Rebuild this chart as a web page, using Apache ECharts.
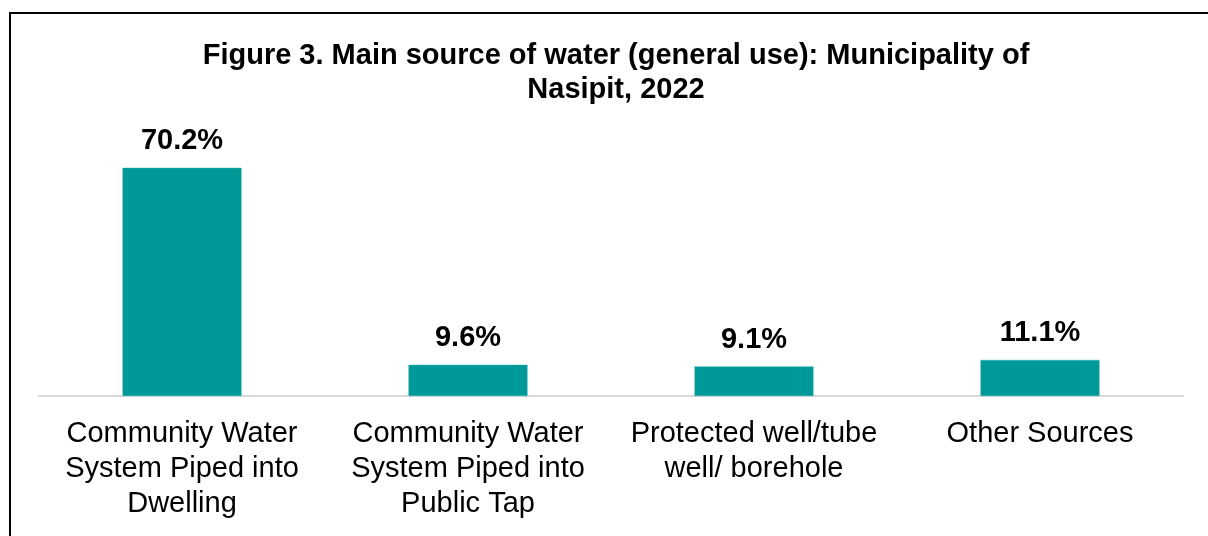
<!DOCTYPE html>
<html>
<head>
<meta charset="utf-8">
<script src="https://cdn.jsdelivr.net/npm/echarts@6/dist/echarts.min.js"></script>
<style>html,body{margin:0;padding:0;background:#fff}#c{width:1208px;height:536px}</style>
</head>
<body>
<div id="c"></div>
<script>
var titleText = 'Figure 3. Main source of water (general use): Municipality of\nNasipit, 2022';
var categories = [
  'Community Water\nSystem Piped into\nDwelling',
  'Community Water\nSystem Piped into\nPublic Tap',
  'Protected well/tube\nwell/ borehole',
  'Other Sources'
];
var values = [70.2, 9.6, 9.1, 11.1];

var chart = echarts.init(document.getElementById('c'), null, {renderer: 'canvas'});
chart.setOption({
  animation: false,
  backgroundColor: '#fff',
  textStyle: {fontFamily: 'Liberation Sans, Arial, sans-serif'},
  title: {
    text: titleText,
    left: 611,
    textAlign: 'center',
    top: 34,
    textStyle: {fontSize: 29, fontWeight: 'bold', color: '#000', lineHeight: 34, fontFamily: 'Liberation Sans, Arial, sans-serif'}
  },
  graphic: [{
    type: 'rect',
    shape: {x: 10, y: 13, width: 1400, height: 700},
    style: {fill: 'none', stroke: '#000', lineWidth: 2},
    silent: true,
    z: 100
  }],
  grid: {left: 39, right: 25, top: 136, bottom: 140, containLabel: false},
  xAxis: {
    type: 'category',
    data: categories,
    axisLine: {show: true, lineStyle: {color: '#d9d9d9', width: 2}},
    axisTick: {show: false},
    axisLabel: {fontSize: 29, color: '#000', lineHeight: 35, margin: 20, interval: 0, fontFamily: 'Liberation Sans, Arial, sans-serif'}
  },
  yAxis: {
    type: 'value', min: 0, max: 80, show: false,
    splitLine: {show: false}
  },
  series: [{
    type: 'bar',
    data: values,
    barWidth: 119,
    itemStyle: {color: '#009999', borderColor: '#33adad', borderWidth: 0.5},
    label: {
      show: true, position: 'top', distance: 12,
      formatter: function (p) { return p.value.toFixed(1) + '%'; },
      fontSize: 29, fontWeight: 'bold', color: '#000', fontFamily: 'Liberation Sans, Arial, sans-serif'
    }
  }]
});
</script>
</body>
</html>
